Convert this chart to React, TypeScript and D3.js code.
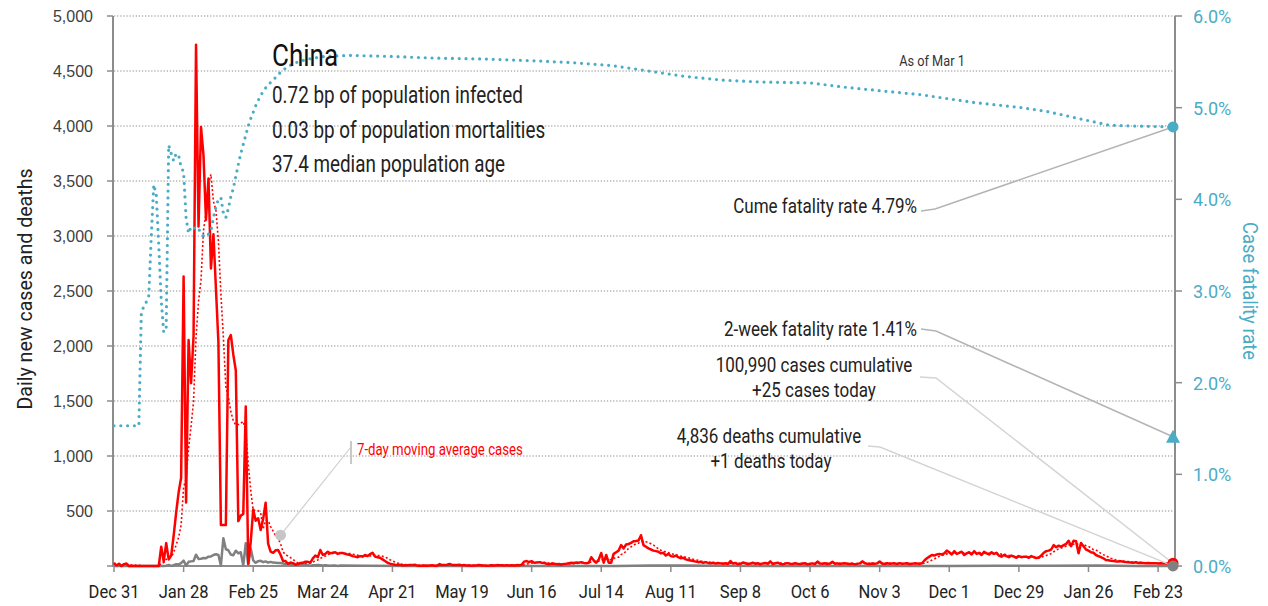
import React from "react";
import * as d3 from "d3";

type Pt = { date: Date; value: number };

const parseDay = d3.timeParse("%Y-%m-%d");
const day = (s: string) => parseDay(s) as Date;

// daily new cases, one array per month
const casesDec2019 = [27];
const casesJan2020 = [
  5, 20, 0, 17, 22, 0, 0, 0, 0, 0,
  0, 0, 0, 0, 0, 0, 0, 0, 176, 40,
  208, 60, 95, 277, 486, 669, 802, 2632, 578, 2054,
  1661,
];
const casesFeb2020 = [
  2089, 4739, 3086, 3991, 3733, 3147, 3523, 2704, 3015, 2525,
  2032, 373, 373, 373, 2055, 2100, 1921, 1777, 408, 458,
  473, 1451, 21, 219, 513, 412, 434, 328, 428,
];
const casesMar2020 = [
  576, 204, 130, 120, 143, 146, 102, 46, 45, 20,
  31, 26, 11, 18, 27, 29, 39, 38, 30, 70,
  95, 80, 145, 100, 110, 130, 115, 120, 125, 110,
  118,
];
const casesApr2020 = [
  118, 110, 105, 100, 90, 85, 80, 90, 85, 100,
  90, 108, 120, 85, 80, 75, 60, 45, 30, 22,
  15, 12, 10, 12, 5, 8, 6, 10, 8, 12,
];
const casesMay2020 = [
  3, 2, 3, 5, 2, 4, 6, 2, 3, 17,
  8, 9, 12, 18, 10, 8, 10, 12, 6, 8,
  5, 4, 3, 5, 6, 9, 5, 4, 3, 4,
  6,
];
const casesJun2020 = [
  5, 8, 7, 6, 5, 8, 4, 6, 5, 8,
  6, 11, 40, 45, 36, 44, 30, 32, 35, 30,
  28, 20, 15, 22, 21, 17, 18, 12, 19, 20,
];
const casesJul2020 = [
  25, 30, 28, 32, 30, 35, 28, 25, 30, 80,
  50, 30, 60, 118, 30, 100, 30, 30, 110, 125,
  140, 190, 160, 195, 200, 210, 225, 228, 232, 280,
  190,
];
const casesAug2020 = [
  175, 160, 150, 140, 135, 130, 115, 120, 95, 110,
  90, 85, 95, 80, 70, 75, 60, 55, 50, 45,
  40, 35, 38, 30, 35, 28, 25, 30, 22, 28,
  24,
];
const casesSep2020 = [
  20, 25, 18, 45, 22, 28, 15, 20, 32, 25,
  18, 22, 30, 20, 25, 15, 24, 28, 20, 42,
  18, 25, 30, 20, 15, 22, 26, 20, 18, 25,
];
const casesOct2020 = [
  20, 18, 22, 25, 15, 20, 24, 18, 40, 22,
  20, 25, 18, 22, 38, 20, 24, 18, 22, 25,
  20, 18, 22, 15, 20, 24, 42, 26, 20, 18,
  22,
];
const casesNov2020 = [
  20, 24, 40, 22, 18, 25, 20, 22, 24, 18,
  26, 20, 22, 25, 18, 20, 24, 22, 20, 25,
  50, 70, 85, 100, 95, 105, 110, 105, 115, 140,
];
const casesDec2020 = [
  125, 105, 135, 110, 120, 130, 100, 115, 125, 105,
  135, 110, 120, 100, 130, 115, 105, 125, 110, 120,
  95, 85, 100, 90, 80, 95, 85, 75, 90, 80,
  85,
];
const casesJan2021 = [
  85, 75, 90, 80, 72, 75, 95, 120, 135, 140,
  150, 190, 170, 185, 175, 190, 200, 230, 180, 230,
  225, 115, 210, 180, 150, 140, 125, 120, 100, 90,
  80,
];
const casesFeb2021 = [
  70, 55, 52, 48, 45, 42, 40, 44, 38, 36,
  35, 32, 30, 34, 28, 30, 27, 26, 28, 25,
  24, 26, 22, 25, 23, 24, 22, 20,
];
const casesMar2021 = [25];

const caseMonths: [string, number[]][] = [
  ["2019-12-31", casesDec2019], ["2020-01-01", casesJan2020], ["2020-02-01", casesFeb2020],
  ["2020-03-01", casesMar2020], ["2020-04-01", casesApr2020], ["2020-05-01", casesMay2020],
  ["2020-06-01", casesJun2020], ["2020-07-01", casesJul2020], ["2020-08-01", casesAug2020],
  ["2020-09-01", casesSep2020], ["2020-10-01", casesOct2020], ["2020-11-01", casesNov2020],
  ["2020-12-01", casesDec2020], ["2021-01-01", casesJan2021], ["2021-02-01", casesFeb2021],
  ["2021-03-01", casesMar2021],
];

// daily new deaths (daily through the first wave, sparse afterwards)
const deathsJan2020 = [0, 3, 9, 1, 8, 16, 14, 26, 49, 2, 38, 42]; // from Jan 20
const deathsFeb2020 = [
  46, 103, 64, 66, 72, 70, 85, 87, 100, 107,
  100, 5, 253, 152, 143, 104, 98, 139, 115, 125,
  4, 207, 11, 160, 52, 29, 44, 47, 35,
];
const deathsMar2020 = [
  42, 31, 38, 31, 30, 28, 27, 22, 17, 22,
  11, 7, 13, 10, 14, 13, 11, 8, 3, 7,
  6, 9, 7, 4, 6, 5, 3, 5, 5, 1,
  4,
];
const deathMonths: [string, number[]][] = [
  ["2020-01-20", deathsJan2020], ["2020-02-01", deathsFeb2020], ["2020-03-01", deathsMar2020],
];
const deathsOtherDates = [
  "2019-12-31", "2020-01-19", "2020-04-10", "2020-04-30", "2020-05-31", "2020-06-30",
  "2020-07-20", "2020-08-03", "2020-08-17", "2020-09-01", "2020-09-20", "2020-10-31",
  "2020-11-30", "2020-12-20", "2021-01-10", "2021-01-30", "2021-02-15", "2021-03-01",
];
const deathsOtherValues = [0, 0, 2, 0, 0, 0, 0, 4, 5, 2, 0, 0, 1, 3, 2, 4, 1, 1];

// cumulative case fatality rate, % (daily to end of Feb 2020, then sparse)
const cfrEarly = [
  1.53, 1.53, 1.53, 1.53, 1.53, 1.53, 1.53, 1.53, 1.53, 1.53,
  1.53, 2.77, 2.83, 2.88, 2.95, 3.6, 4.16, 4.05, 3.5, 2.9,
  2.55, 2.6, 4.59, 4.5, 4.42, 4.5, 4.48, 4.35, 4.3, 3.8,
  3.63, 3.7, 3.68, 3.7, 3.68, 3.63, 3.6, 3.59, 3.62, 3.65,
  3.8, 3.92, 4.0, 4.02, 3.85, 3.8, 3.9, 4.03, 4.12, 4.25,
  4.38, 4.5, 4.6, 4.7, 4.8, 4.88, 4.95, 5.02, 5.08, 5.13,
  5.18,
];
const cfrLaterDates = [
  "2020-03-02", "2020-03-04", "2020-03-06", "2020-03-08", "2020-03-10", "2020-03-14",
  "2020-03-18", "2020-03-25", "2020-04-04", "2020-04-19", "2020-05-09", "2020-05-29",
  "2020-06-18", "2020-07-03", "2020-07-18", "2020-08-02", "2020-08-17", "2020-09-01",
  "2020-09-16", "2020-10-06", "2020-10-21", "2020-11-05", "2020-11-20", "2020-11-30",
  "2020-12-10", "2020-12-20", "2020-12-30", "2021-01-09", "2021-01-19", "2021-01-29",
  "2021-02-03", "2021-02-13", "2021-03-01",
];
const cfrLaterValues = [
  5.25, 5.3, 5.36, 5.41, 5.45, 5.5,
  5.53, 5.56, 5.57, 5.56, 5.54, 5.53,
  5.51, 5.49, 5.46, 5.4, 5.34, 5.3,
  5.28, 5.27, 5.22, 5.18, 5.14, 5.1,
  5.06, 5.03, 5.0, 4.96, 4.9, 4.84,
  4.81, 4.8, 4.79,
];

const twoWeekRate = 1.41;
const maLabelAnchor = { date: "2020-03-07", value: 280 };

const leftTicks = [0, 500, 1000, 1500, 2000, 2500, 3000, 3500, 4000, 4500, 5000];
const rightTicks = [0, 1, 2, 3, 4, 5, 6];
const xTickDates = [
  "2019-12-31", "2020-01-28", "2020-02-25", "2020-03-24", "2020-04-21", "2020-05-19",
  "2020-06-16", "2020-07-14", "2020-08-11", "2020-09-08", "2020-10-06", "2020-11-03",
  "2020-12-01", "2020-12-29", "2021-01-26", "2021-02-23",
];

// ---- build series ----
const fromMonths = (months: [string, number[]][]): Pt[] =>
  months.flatMap(([s, vals]) => vals.map((v, i) => ({ date: d3.timeDay.offset(day(s), i), value: v })));

const cases = fromMonths(caseMonths);
const movingAvg: Pt[] = cases.map((d, i) => ({
  date: d.date,
  value: d3.mean(cases.slice(Math.max(0, i - 6), i + 1), (c) => c.value) as number,
}));
const deaths = fromMonths(deathMonths)
  .concat(deathsOtherDates.map((s, i) => ({ date: day(s), value: deathsOtherValues[i] })))
  .sort((a, b) => +a.date - +b.date);
const cfr: Pt[] = cfrEarly
  .map((v, i) => ({ date: d3.timeDay.offset(day("2019-12-31"), i), value: v }))
  .concat(cfrLaterDates.map((s, i) => ({ date: day(s), value: cfrLaterValues[i] })));

// ---- layout ----
const W = 1268;
const H = 606;
const top = 16;
const bottom = 566;
const left = 114;
const rightAxisX = 1175;

const x = d3.scaleTime().domain([day("2019-12-31"), day("2021-03-01")]).range([left, 1173]);
const yL = d3.scaleLinear().domain([0, 5000]).range([bottom, top]);
const yR = d3.scaleLinear().domain([0, 6]).range([bottom, top]);

const lineL = d3.line<Pt>().x((d) => x(d.date)).y((d) => yL(d.value));
const lineR = d3.line<Pt>().x((d) => x(d.date)).y((d) => yR(d.value));

const FONT = "Roboto, 'Liberation Sans', Arial, sans-serif";
const RED = "#ff0000";
const GRAY = "#808080";
const BLUE = "#4bacc6";
const AXIS = "#8c8c8c";

// condensed text: the original uses a narrow face, so squeeze Roboto horizontally
const CText = ({ x: tx, y: ty, size, sx = 0.82, anchor = "start", fill = "#222", rotate = 0, children }: any) => (
  <text
    transform={`translate(${tx},${ty}) rotate(${rotate}) scale(${sx},1)`}
    fontSize={size}
    textAnchor={anchor}
    fill={fill}
    fontFamily={FONT}
  >
    {children}
  </text>
);

export default function App() {
  const last = cases[cases.length - 1];
  const lastDeath = deaths[deaths.length - 1];
  const lastCfr = cfr[cfr.length - 1];
  const xe = x(last.date);
  const cumeY = yR(lastCfr.value);
  const twoWkY = yR(twoWeekRate);
  const casesY = yL(last.value);
  const deathsY = yL(lastDeath.value);
  const maX = x(day(maLabelAnchor.date));
  const maY = yL(maLabelAnchor.value);
  const fmt = d3.timeFormat("%b %-d");

  return (
    <svg
      width={W}
      height={H}
      style={{ position: "fixed", left: 0, top: 0, background: "#fff" }}
      fontFamily={FONT}
    >
      <rect width={W} height={H} fill="#fff" />

      {/* gridlines */}
      {leftTicks.filter((t) => t > 0).map((t) => (
        <line key={t} x1={left} x2={rightAxisX} y1={yL(t)} y2={yL(t)}
          stroke="#b4b4b4" strokeWidth={1.3} strokeDasharray="1.3 1.8" />
      ))}

      {/* left axis */}
      <line x1={left - 1} x2={left - 1} y1={top} y2={bottom} stroke={AXIS} strokeWidth={2} />
      {leftTicks.map((t) => (
        <g key={t}>
          <line x1={left - 7} x2={left - 1} y1={yL(t)} y2={yL(t)} stroke={AXIS} strokeWidth={1.5} />
          {t > 0 && (
            <text x={93} y={yL(t) + 6} textAnchor="end" fontSize={16} fill="#404040"
              fontFamily="'Liberation Sans', Arial, sans-serif">
              {d3.format(",")(t)}
            </text>
          )}
        </g>
      ))}
      <CText x={32} y={289} size={20} sx={0.98} anchor="middle" rotate={-90}>
        Daily new cases and deaths
      </CText>

      {/* right axis */}
      <line x1={rightAxisX} x2={rightAxisX} y1={top} y2={bottom} stroke={AXIS} strokeWidth={2} />
      {rightTicks.map((t) => (
        <g key={t}>
          <line x1={rightAxisX} x2={rightAxisX + 7} y1={yR(t)} y2={yR(t)} stroke={AXIS} strokeWidth={1.5} />
          <CText x={1193} y={yR(t) + 7} size={19} sx={0.95} fill={BLUE}>
            {t.toFixed(1) + "%"}
          </CText>
        </g>
      ))}
      <CText x={1243} y={291} size={20} sx={0.92} anchor="middle" rotate={90} fill={BLUE}>
        Case fatality rate
      </CText>

      {/* x axis */}
      <line x1={left - 2} x2={rightAxisX} y1={bottom} y2={bottom} stroke={AXIS} strokeWidth={2} />
      {xTickDates.map((s) => {
        const px = x(day(s));
        return (
          <g key={s}>
            <line x1={px} x2={px} y1={bottom} y2={bottom + 6} stroke={AXIS} strokeWidth={1.5} />
            <CText x={px} y={598} size={19} sx={0.87} anchor="middle">
              {fmt(day(s))}
            </CText>
          </g>
        );
      })}

      {/* series */}
      <path d={lineL(deaths) as string} fill="none" stroke={GRAY} strokeWidth={2.5} strokeLinejoin="round" />
      <path d={lineL(cases) as string} fill="none" stroke={RED} strokeWidth={2.5} strokeLinejoin="round" />
      <path d={lineL(movingAvg) as string} fill="none" stroke={RED} strokeWidth={1.6}
        strokeDasharray="2 2.2" />
      <path d={lineR(cfr) as string} fill="none" stroke={BLUE} strokeWidth={3.2}
        strokeLinecap="round" strokeDasharray="0 6.8" />

      {/* title block */}
      <CText x={272} y={66} size={31} sx={0.84} fill="#111">China</CText>
      <CText x={272} y={103} size={23}>0.72 bp of population infected</CText>
      <CText x={272} y={138} size={23}>0.03 bp of population mortalities</CText>
      <CText x={272} y={172} size={23}>37.4 median population age</CText>
      <CText x={932} y={66} size={15} sx={0.85} anchor="middle" fill="#333">As of Mar 1</CText>

      {/* moving average label */}
      <line x1={maX} y1={maY} x2={351} y2={447} stroke="#cfcfcf" strokeWidth={1.2} />
      <line x1={351} x2={351} y1={441} y2={464} stroke="#c8c8c8" strokeWidth={2} />
      <circle cx={maX} cy={maY} r={5.5} fill="#c6c6c6" />
      <CText x={357} y={455} size={16.5} sx={0.8} fill={RED}>7-day moving average cases</CText>

      {/* leader lines */}
      <polyline points={`921,211 935,209 ${xe},${cumeY}`} fill="none" stroke="#b4b4b4" strokeWidth={1.5} />
      <polyline points={`921,329 936,331 ${xe},${twoWkY}`} fill="none" stroke="#b4b4b4" strokeWidth={1.5} />
      <polyline points={`920,377 936,378 ${xe},${casesY}`} fill="none" stroke="#d4d4d4" strokeWidth={1.5} />
      <polyline points={`868,446 880,447 ${xe},${deathsY}`} fill="none" stroke="#d4d4d4" strokeWidth={1.5} />

      {/* annotation texts */}
      <CText x={917} y={213} size={20.5} sx={0.83} anchor="end">
        {`Cume fatality rate ${lastCfr.value.toFixed(2)}%`}
      </CText>
      <CText x={917} y={336} size={20.5} sx={0.83} anchor="end">
        {`2-week fatality rate ${twoWeekRate.toFixed(2)}%`}
      </CText>
      <CText x={814} y={372} size={20.5} sx={0.83} anchor="middle">100,990 cases cumulative</CText>
      <CText x={814} y={397} size={20.5} sx={0.83} anchor="middle">{`+${last.value} cases today`}</CText>
      <CText x={769} y={443} size={20.5} sx={0.83} anchor="middle">4,836 deaths cumulative</CText>
      <CText x={771} y={468} size={20.5} sx={0.83} anchor="middle">{`+${lastDeath.value} deaths today`}</CText>

      {/* end markers */}
      <circle cx={xe} cy={cumeY} r={5.5} fill={BLUE} />
      <path d={`M${xe},${twoWkY - 7}L${xe + 7},${twoWkY + 6}L${xe - 7},${twoWkY + 6}Z`} fill={BLUE} />
      <circle cx={xe} cy={casesY} r={5.5} fill={RED} />
      <circle cx={xe} cy={deathsY} r={5.5} fill={GRAY} />
    </svg>
  );
}
